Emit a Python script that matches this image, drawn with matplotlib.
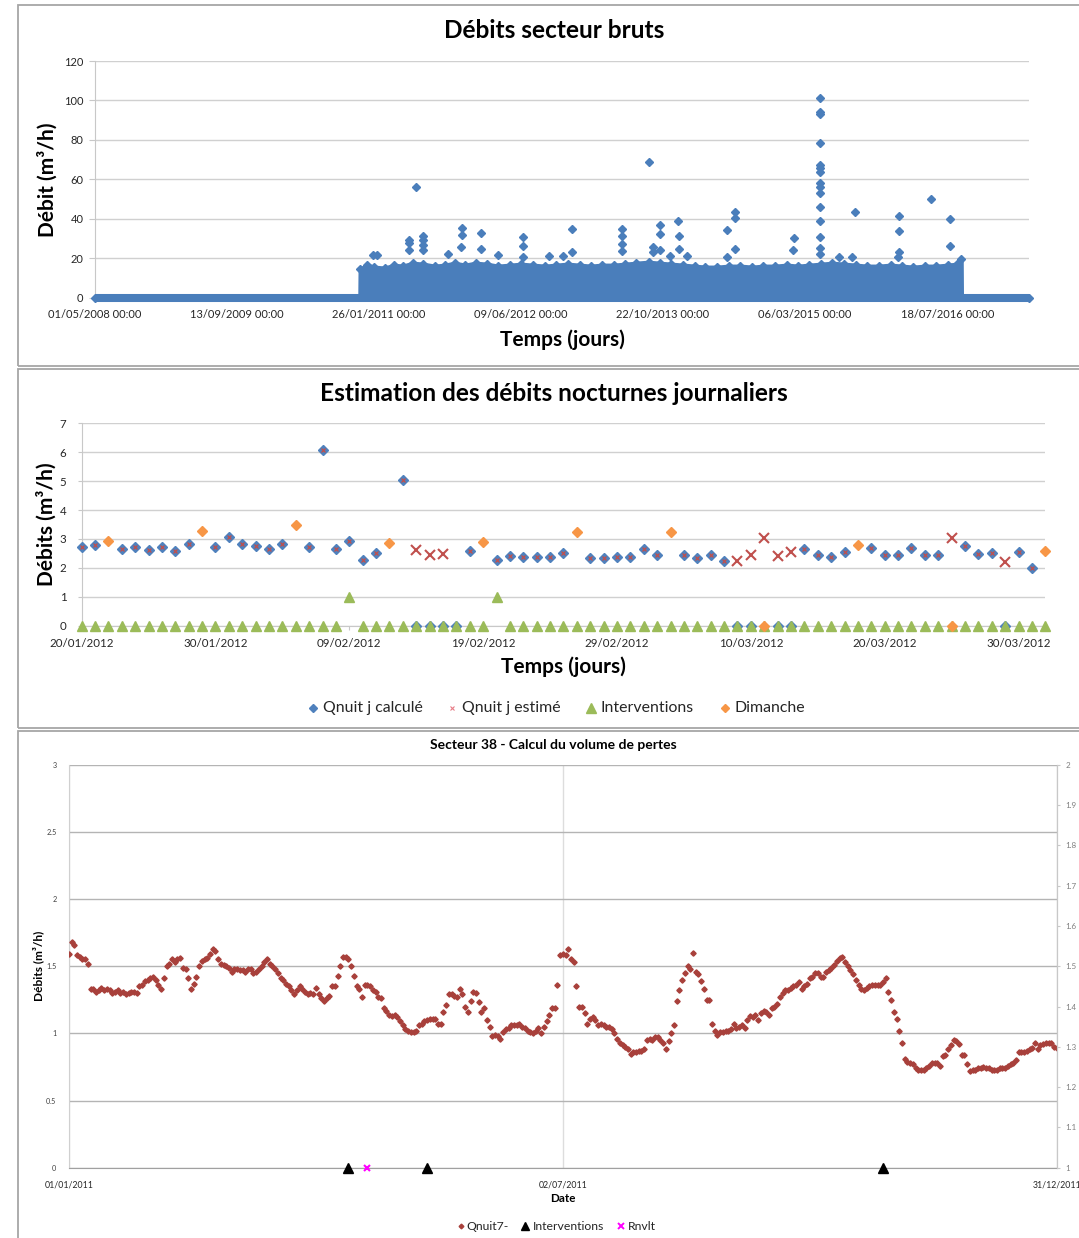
import numpy as np
import pandas as pd
import matplotlib
matplotlib.use('Agg')
import matplotlib.pyplot as plt
import matplotlib.dates as mdates
from matplotlib.patches import Rectangle
from matplotlib.lines import Line2D
from matplotlib.ticker import FuncFormatter

plt.rcParams['font.family'] = ['Lato', 'DejaVu Sans']

# ======================= DATA =======================
# ---- Panel 1 : raw sector flows ----
p1_title = 'Débits secteur bruts'
p1_xlabel = 'Temps (jours)'
p1_ylabel = 'Débit (m³/h)'
p1_zero_range = ['2008-05-01', '2017-05-01']
p1_blob_dates = ['2010-11-20', '2010-11-21', '2010-12-15', '2011-01-10', '2011-02-15', '2011-03-20',
                 '2011-04-20', '2011-05-25', '2011-07-01', '2011-08-10', '2011-09-15', '2011-10-20',
                 '2011-11-25', '2012-01-01', '2012-02-10', '2012-03-20', '2012-05-01', '2012-06-10',
                 '2012-07-20', '2012-09-01', '2012-10-10', '2012-11-20', '2013-01-01', '2013-02-10',
                 '2013-03-20', '2013-05-01', '2013-06-10', '2013-07-20', '2013-09-01', '2013-10-10',
                 '2013-11-20', '2014-01-01', '2014-02-10', '2014-03-20', '2014-05-01', '2014-06-10',
                 '2014-07-20', '2014-09-01', '2014-10-10', '2014-11-20', '2015-01-01', '2015-02-10',
                 '2015-03-20', '2015-05-01', '2015-06-10', '2015-07-20', '2015-09-01', '2015-10-10',
                 '2015-11-20', '2016-01-01', '2016-02-10', '2016-03-20', '2016-05-01', '2016-06-10',
                 '2016-07-20', '2016-08-20', '2016-09-05', '2016-09-06']
p1_blob_top = [0, 14.5, 16.5, 15.5, 15.0, 16.5, 16.0, 17.5, 17.0, 16.0, 16.5, 17.5,
               16.5, 17.5, 17.0, 16.0, 16.5, 17.0, 16.5, 16.0, 16.5, 17.0, 16.5, 16.0,
               16.5, 16.5, 17.0, 17.5, 18.0, 17.5, 17.0, 16.5, 16.0, 15.5, 15.5, 16.0,
               16.0, 15.5, 16.0, 16.0, 16.5, 16.0, 16.5, 17.0, 17.5, 17.0, 16.5, 16.0,
               16.0, 16.5, 16.0, 15.5, 16.0, 16.0, 16.5, 17.0, 19.5, 0]
p1_peak_dates = ['2011-01-04', '2011-01-19', '2011-05-11', '2011-05-11', '2011-05-11', '2011-06-04',
                 '2011-07-02', '2011-07-02', '2011-07-02', '2011-07-02', '2011-09-25', '2011-11-11',
                 '2011-11-16', '2011-11-16', '2012-01-21', '2012-01-21', '2012-03-19', '2012-06-17',
                 '2012-06-17', '2012-06-17', '2012-09-14', '2012-11-05', '2012-12-04', '2012-12-04',
                 '2013-05-29', '2013-05-29', '2013-05-29', '2013-05-29', '2013-09-03', '2013-09-18',
                 '2013-09-18', '2013-10-10', '2013-10-10', '2013-10-10', '2013-11-15', '2013-12-15',
                 '2013-12-18', '2013-12-18', '2014-01-14', '2014-06-05', '2014-06-05', '2014-07-03',
                 '2014-07-03', '2014-07-03', '2015-01-21', '2015-01-25',
                 '2015-04-28', '2015-04-28', '2015-04-28', '2015-04-28', '2015-04-28', '2015-04-28',
                 '2015-04-28', '2015-04-28', '2015-04-28', '2015-04-28', '2015-04-28', '2015-04-28',
                 '2015-04-28', '2015-04-28', '2015-04-28',
                 '2015-07-03', '2015-08-17', '2015-08-29', '2016-01-25', '2016-01-30', '2016-01-30',
                 '2016-01-30', '2016-05-21', '2016-07-28', '2016-07-28']
p1_peak_values = [21.7, 21.5, 29.3, 27.6, 24.0, 56.3,
                  31.5, 29.0, 26.5, 24.0, 22.4, 25.7,
                  35.2, 31.6, 33.0, 24.9, 21.7, 30.6,
                  26.2, 20.8, 21.3, 21.1, 34.9, 23.3,
                  34.6, 31.2, 27.1, 23.7, 68.7, 25.5,
                  23.0, 37.1, 32.5, 24.4, 21.3, 38.8,
                  31.2, 24.9, 21.1, 34.4, 20.5, 43.3,
                  40.6, 24.8, 24.2, 30.1,
                  101.4, 94.0, 93.0, 78.6, 67.3, 65.6,
                  63.9, 58.0, 56.3, 53.2, 46.1, 39.0,
                  30.6, 25.0, 22.0,
                  20.8, 20.6, 43.3, 20.8, 41.4, 33.7,
                  23.3, 49.9, 40.1, 26.2]
p1_ticks = ['2008-05-01', '2009-09-13', '2011-01-26', '2012-06-09', '2013-10-22', '2015-03-06', '2016-07-18']

# ---- Panel 2 : daily night flows (20/01/2012 -> 01/04/2012) ----
p2_title = 'Estimation des débits nocturnes journaliers'
p2_xlabel = 'Temps (jours)'
p2_ylabel = 'Débits (m³/h)'
p2_start, p2_end = '2012-01-20', '2012-04-01'
nan = np.nan
p2_calcule = [2.72, 2.80, nan, 2.66, 2.72, 2.62, 2.72, 2.58, 2.83, nan,
              2.72, 3.06, 2.83, 2.76, 2.64, 2.84, nan, 2.71, 6.09, 2.64,
              2.94, 2.26, 2.50, nan, 5.04, 0, 0, 0, 0, 2.58,
              nan, 2.26, 2.41, 2.37, 2.36, 2.36, 2.53, nan, 2.33, 2.33,
              2.36, 2.36, 2.65, 2.45, nan, 2.44, 2.33, 2.46, 2.23, 0,
              0, nan, 0, 0, 2.64, 2.44, 2.36, 2.55, nan, 2.70,
              2.43, 2.43, 2.69, 2.44, 2.44, nan, 2.75, 2.47, 2.53, 0,
              2.56, 2.01, nan]
p2_remplace = [nan] * 25 + [2.62, 2.44, 2.47] + [nan] * 21 + [2.24, 2.43, 3.05, 2.41, 2.55] + \
              [nan] * 11 + [3.03] + [nan] * 3 + [2.21] + [nan] * 3
p2_interventions = [0] * 20 + [1] + [0] * 10 + [1] + [0] * 41
p2_dimanche = [nan, nan, 2.92, nan, nan, nan, nan, nan, nan, 3.29,
               nan, nan, nan, nan, nan, nan, 3.48, nan, nan, nan,
               nan, nan, nan, 2.86, nan, nan, nan, nan, nan, nan,
               2.90, nan, nan, nan, nan, nan, nan, 3.23, nan, nan,
               nan, nan, nan, nan, 3.23, nan, nan, nan, nan, nan,
               nan, 0, nan, nan, nan, nan, nan, nan, 2.79, nan,
               nan, nan, nan, nan, nan, 0, nan, nan, nan, nan,
               nan, nan, 2.60]
p2_legend = ['Qnuit j calculé', 'Qnuit j estimé', 'Interventions', 'Dimanche']

# ---- Panel 3 : sector 38, 2011 ----
p3_title = 'Secteur 38 - Calcul du volume de pertes'
p3_xlabel = 'Date'
p3_ylabel = 'Débits (m³/h)'
p3_start = '2011-01-01'
p3_qnuit7 = [
    1.59, 1.68, 1.66, 1.58, 1.57, 1.55, 1.55, 1.52, 1.33, 1.33, 1.31, 1.32, 1.34, 1.32, 1.33, 1.32,
    1.30, 1.31, 1.32, 1.30, 1.31, 1.29, 1.30, 1.31, 1.31, 1.30, 1.35, 1.36, 1.39, 1.40, 1.41, 1.42,
    1.40, 1.36, 1.33, 1.41, 1.50, 1.52, 1.55, 1.53, 1.55, 1.56, 1.49, 1.48, 1.41, 1.33, 1.37, 1.42,
    1.50, 1.54, 1.55, 1.56, 1.59, 1.63, 1.61, 1.55, 1.52, 1.51, 1.50, 1.49, 1.46, 1.48, 1.48, 1.47,
    1.47, 1.46, 1.48, 1.48, 1.45, 1.46, 1.48, 1.50, 1.53, 1.55, 1.52, 1.50, 1.48, 1.45, 1.41, 1.40,
    1.37, 1.35, 1.32, 1.29, 1.32, 1.35, 1.33, 1.31, 1.29,
    1.30, 1.29, 1.34, 1.29, 1.26, 1.24, 1.26, 1.28, 1.35, 1.35, 1.43, 1.50, 1.57, 1.57, 1.55, 1.50,
    1.43, 1.35, 1.33, 1.27, 1.36, 1.36, 1.35, 1.32, 1.31, 1.27, 1.26, 1.19, 1.17, 1.14, 1.13, 1.14,
    1.12, 1.09, 1.06, 1.03, 1.02, 1.01, 1.01, 1.02, 1.06, 1.07, 1.09, 1.10, 1.11, 1.11, 1.11, 1.07,
    1.07, 1.16, 1.21, 1.29, 1.29, 1.28, 1.27, 1.33, 1.29, 1.20, 1.16, 1.24, 1.31, 1.30, 1.23, 1.16,
    1.19, 1.10, 1.05, 0.98, 0.99, 0.98, 0.96, 1.01, 1.03, 1.04, 1.06, 1.06, 1.06, 1.07, 1.05, 1.04,
    1.02, 1.01, 1.00, 1.02, 1.04, 1.00, 1.05, 1.09, 1.14, 1.19,
    1.19, 1.36, 1.58, 1.59, 1.58, 1.63, 1.55, 1.53, 1.35, 1.20, 1.20, 1.15, 1.07, 1.11, 1.12, 1.10,
    1.06, 1.07, 1.06, 1.05, 1.05, 1.03, 1.00, 0.96, 0.93, 0.91, 0.90, 0.88, 0.85, 0.86, 0.86, 0.87,
    0.87, 0.88, 0.95, 0.96, 0.95, 0.97, 0.97, 0.95, 0.93, 0.88, 0.94, 1.00, 1.06, 1.24, 1.32, 1.40,
    1.45, 1.50, 1.48, 1.60, 1.46, 1.44, 1.39, 1.33, 1.25, 1.25, 1.07, 1.02, 0.99, 1.01, 1.01, 1.02,
    1.02, 1.03, 1.07, 1.04, 1.05, 1.06, 1.04, 1.10, 1.13, 1.12, 1.14, 1.10, 1.15, 1.17, 1.16, 1.14,
    1.19, 1.20, 1.22, 1.27, 1.30, 1.32, 1.32, 1.34, 1.35, 1.36, 1.38,
    1.33, 1.35, 1.37, 1.41, 1.42, 1.45, 1.45, 1.42, 1.42, 1.46, 1.47, 1.49, 1.51, 1.54, 1.56, 1.57,
    1.53, 1.50, 1.47, 1.44, 1.40, 1.36, 1.33, 1.32, 1.34, 1.35, 1.36, 1.36, 1.36, 1.36, 1.38, 1.41,
    1.31, 1.25, 1.16, 1.11, 1.02, 0.93, 0.81, 0.79, 0.78, 0.77, 0.74, 0.73, 0.73, 0.73, 0.74, 0.76,
    0.78, 0.78, 0.78, 0.76, 0.83, 0.84, 0.88, 0.91, 0.95, 0.94, 0.92, 0.84, 0.84, 0.77, 0.72, 0.73,
    0.73, 0.74, 0.74, 0.75, 0.74, 0.74, 0.73, 0.73, 0.73, 0.74, 0.74, 0.74, 0.76, 0.77, 0.78, 0.80,
    0.86, 0.86, 0.86, 0.87, 0.88, 0.89, 0.93, 0.88, 0.91, 0.92, 0.93, 0.93, 0.93, 0.90, 0.89]
p3_interv_dates = ['2011-04-14', '2011-05-13', '2011-10-28']
p3_rnvlt_dates = ['2011-04-21']
p3_xticks = ['2011-01-01', '2011-07-02', '2011-12-31']
p3_right_ticks = ['1', '1.1', '1.2', '1.3', '1.4', '1.5', '1.6', '1.7', '1.8', '1.9', '2']
p3_legend = ['Qnuit7-', 'Interventions', 'Rnvlt']

# ======================= FIGURE =======================
W, H = 1079, 1238
fig = plt.figure(figsize=(W / 100, H / 100), dpi=100)
fig.patch.set_facecolor('white')


def axes_px(x0, y0, x1, y1):
    return fig.add_axes([x0 / W, 1 - y1 / H, (x1 - x0) / W, (y1 - y0) / H])


def ftext(x, y, s, **kw):
    fig.text(x / W, 1 - y / H, s, **kw)


def fmark(x, y, **kw):
    fig.add_artist(Line2D([x / W], [1 - y / H], transform=fig.transFigure, ls='none', **kw))


# panel frames
for (x0, y0, x1, y1) in [(18, 5, 1110, 366), (18, 369, 1110, 728), (18, 731, 1110, 1260)]:
    fig.add_artist(Rectangle((x0 / W, 1 - y1 / H), (x1 - x0) / W, (y1 - y0) / H,
                             transform=fig.transFigure, fill=False, ec='#A6A6A6', lw=1.3))

BLUE = '#4A7EBB'
TXT = '#262626'
TITLE_FS = 17.6
AXT_FS = 15

# ---------------- Panel 1 ----------------
ax1 = axes_px(94.7, 61, 1028.8, 297.7)
ax1.set_xlim(pd.Timestamp(p1_zero_range[0]), pd.Timestamp(p1_zero_range[1]))
ax1.set_ylim(0, 120)
ax1.set_yticks(np.arange(0, 121, 20))
ax1.yaxis.grid(True, color='#D0D0D0', lw=1.0)
ax1.set_axisbelow(True)
zr = pd.to_datetime(p1_zero_range)
ax1.plot(zr, [0, 0], color=BLUE, lw=5.8, solid_capstyle='butt', zorder=3, clip_on=False)
ax1.plot(zr, [0, 0], 'D', ms=4, color=BLUE, ls='none', zorder=3, clip_on=False)
bd = pd.to_datetime(p1_blob_dates)
ax1.fill_between(bd, 0, p1_blob_top, color=BLUE, edgecolor=BLUE, lw=3.0, zorder=3)
ax1.plot(bd[1:-1], p1_blob_top[1:-1], 'D', ms=3.6, color=BLUE, ls='none', zorder=3)
ax1.plot(pd.to_datetime(p1_peak_dates), p1_peak_values, 'D', ms=4.2, color=BLUE, ls='none', zorder=4)
ax1.set_xticks(pd.to_datetime(p1_ticks))
ax1.xaxis.set_major_formatter(mdates.DateFormatter('%d/%m/%Y %H:%M'))
for s in ['top', 'right', 'bottom']:
    ax1.spines[s].set_visible(False)
ax1.spines['left'].set_color('#C8C8C8')
ax1.tick_params(axis='x', length=0, pad=8, labelsize=8, labelcolor=TXT)
ax1.tick_params(axis='y', length=4, color='#C8C8C8', pad=4, labelsize=8, labelcolor=TXT)
ftext(554, 31, p1_title, ha='center', va='center', fontsize=TITLE_FS, fontweight='bold', color='black')
ftext(47, 180, p1_ylabel, ha='center', va='center', rotation=90, fontsize=AXT_FS, fontweight='bold', color='black')
ftext(562, 340, p1_xlabel, ha='center', va='center', fontsize=AXT_FS, fontweight='bold', color='black')

# ---------------- Panel 2 ----------------
P2B = '#4F81BD'
ORANGE = '#F79646'
GREEN = '#9BBB59'
RED = '#C0504D'
PINK = '#E87C86'
ax2 = axes_px(81.6, 423.3, 1045.3, 625.7)
d2 = pd.date_range(p2_start, p2_end, freq='D')
ax2.set_xlim(d2[0], d2[-1])
ax2.set_ylim(0, 7)
ax2.set_yticks(range(0, 8))
ax2.yaxis.grid(True, color='#D0D0D0', lw=1.0)
ax2.set_axisbelow(True)
calc = np.array(p2_calcule, dtype=float)
ax2.plot(d2, calc, 'D', ms=4.9, color=P2B, ls='none', zorder=3, clip_on=False)
est = np.where(calc > 0, calc, np.nan)
ax2.plot(d2, est, 'x', ms=2.2, mew=0.9, color=RED, ls='none', zorder=4, clip_on=False)
ax2.plot(d2, p2_remplace, 'x', ms=7.2, mew=1.5, color=RED, ls='none', zorder=4, clip_on=False)
ax2.plot(d2, p2_interventions, '^', ms=7.8, color=GREEN, ls='none', zorder=5, clip_on=False)
ax2.plot(d2, p2_dimanche, 'D', ms=4.9, color=ORANGE, ls='none', zorder=6, clip_on=False)
ax2.set_xticks(d2[::10])
ax2.xaxis.set_major_formatter(mdates.DateFormatter('%d/%m/%Y'))
for s in ['top', 'right']:
    ax2.spines[s].set_visible(False)
ax2.spines['left'].set_color('#C8C8C8')
ax2.spines['bottom'].set_color('#C8C8C8')
ax2.tick_params(axis='x', length=3, color='#C8C8C8', pad=6, labelsize=8.3, labelcolor=TXT)
ax2.tick_params(axis='y', length=3, color='#C8C8C8', pad=8, labelsize=8.3, labelcolor=TXT)
ftext(554, 394, p2_title, ha='center', va='center', fontsize=TITLE_FS, fontweight='bold', color='black')
ftext(46.5, 524, p2_ylabel, ha='center', va='center', rotation=90, fontsize=AXT_FS, fontweight='bold', color='black')
ftext(563, 667, p2_xlabel, ha='center', va='center', fontsize=AXT_FS, fontweight='bold', color='black')
# legend
ly = 707.5
LFS = 11.4
fmark(313.4, ly, marker='D', ms=4.4, color=P2B)
ftext(322.7, ly, p2_legend[0], ha='left', va='center', fontsize=LFS, color=TXT)
fmark(451.8, ly, marker='x', ms=2.5, mew=0.8, color=PINK)
ftext(462, ly, p2_legend[1], ha='left', va='center', fontsize=LFS, color=TXT)
fmark(590.6, ly, marker='^', ms=7, color=GREEN)
ftext(600, ly, p2_legend[2], ha='left', va='center', fontsize=LFS, color=TXT)
fmark(724.6, ly, marker='D', ms=4.4, color=ORANGE)
ftext(734, ly, p2_legend[3], ha='left', va='center', fontsize=LFS, color=TXT)

# ---------------- Panel 3 ----------------
BROWN = '#A8403B'
ax3 = axes_px(68.9, 764.7, 1056.7, 1167.7)
d3 = pd.date_range(p3_start, periods=len(p3_qnuit7), freq='D')
xt3 = pd.to_datetime(p3_xticks)
ax3.set_xlim(xt3[0], xt3[-1])
ax3.set_ylim(0, 3)
ax3.set_yticks(np.arange(0, 3.01, 0.5))
ax3.yaxis.set_major_formatter(FuncFormatter(lambda v, p: f'{v:g}'))
ax3.yaxis.grid(True, color='#B4B4B4', lw=1.0)
ax3.xaxis.grid(True, color='#DDDDDD', lw=1.0)
ax3.set_axisbelow(True)
ax3.plot(d3, p3_qnuit7, 'D', ms=2.7, color=BROWN, ls='none', zorder=3)
ax3.plot(pd.to_datetime(p3_interv_dates), [0] * len(p3_interv_dates), '^', ms=7, color='black',
         ls='none', zorder=4, clip_on=False)
ax3.plot(pd.to_datetime(p3_rnvlt_dates), [0] * len(p3_rnvlt_dates), 'x', ms=5, mew=1.5, color='#FF00FF',
         ls='none', zorder=4, clip_on=False)
ax3.set_xticks(xt3)
ax3.xaxis.set_major_formatter(mdates.DateFormatter('%d/%m/%Y'))
ax3.spines['top'].set_visible(False)
ax3.spines['left'].set_color('#D0D0D0')
ax3.spines['bottom'].set_color('#A0A0A0')
ax3.spines['right'].set_color('#C8C8C8')
ax3.tick_params(axis='x', length=0, pad=9, labelsize=6.3, labelcolor=TXT)
ax3.tick_params(axis='y', length=0, pad=9, labelsize=5.2, labelcolor='#404040')
ax3r = ax3.twinx()
ax3r.set_ylim(1, 2)
ax3r.set_yticks([float(t) for t in p3_right_ticks])
ax3r.set_yticklabels(p3_right_ticks)
for s in ['top', 'left', 'bottom']:
    ax3r.spines[s].set_visible(False)
ax3r.spines['right'].set_color('#C8C8C8')
ax3r.tick_params(axis='y', length=2.5, color='#C8C8C8', pad=4, labelsize=5.8, labelcolor='#7F7F7F')
ftext(553.6, 745, p3_title, ha='center', va='center', fontsize=10, fontweight='bold', color='black')
ftext(38, 966, p3_ylabel, ha='center', va='center', rotation=90, fontsize=8.6, fontweight='bold', color='black')
ftext(563, 1198.3, p3_xlabel, ha='center', va='center', fontsize=8.4, fontweight='bold', color='black')
ly3 = 1226
L3FS = 8.8
fmark(460.7, ly3, marker='D', ms=2.4, color=BROWN)
ftext(466.7, ly3, p3_legend[0], ha='left', va='center', fontsize=L3FS, color=TXT)
fmark(525, ly3, marker='^', ms=6, color='black')
ftext(532.7, ly3, p3_legend[1], ha='left', va='center', fontsize=L3FS, color=TXT)
fmark(620.7, ly3, marker='x', ms=5, mew=1.4, color='#FF00FF')
ftext(628.3, ly3, p3_legend[2], ha='left', va='center', fontsize=L3FS, color=TXT)

fig.savefig('out.png', dpi=100, facecolor='white')
